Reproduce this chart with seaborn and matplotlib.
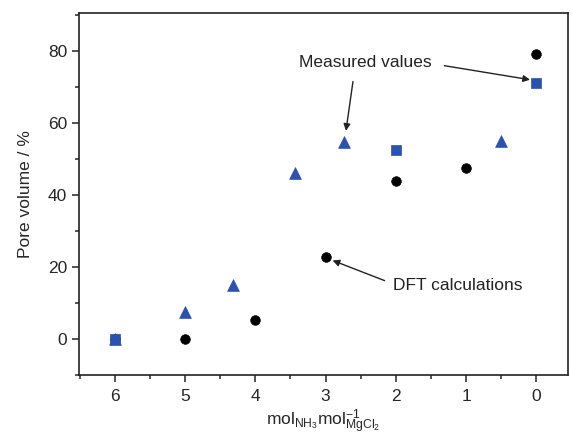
import numpy as np
import pandas as pd
import matplotlib
matplotlib.use("Agg")
import matplotlib.pyplot as plt
from matplotlib.ticker import MultipleLocator
import seaborn as sns

# ── Data ──────────────────────────────────────────────────────────────────────
X_DFT = [6, 5, 4, 3, 2, 1, 0]
Y_DFT = [0, 0, 5.4, 22.8, 44.0, 47.6, 79.2]

X_SQUARE = [6, 2, 0]
Y_SQUARE = [0, 52.6, 71.2]

X_TRIANGLE = [6, 5.0, 4.32, 3.44, 2.74, 0.5]
Y_TRIANGLE = [0, 7.4, 15.1, 46.2, 54.8, 55.0]

X_TICKS = [6, 5, 4, 3, 2, 1, 0]
Y_TICKS = [0, 20, 40, 60, 80]

BLUE = "#2a52b0"
FS = 12.5

# ── Style ─────────────────────────────────────────────────────────────────────
sns.set_style("ticks")
plt.rcParams["font.family"] = ["Liberation Sans", "DejaVu Sans"]
plt.rcParams["mathtext.fontset"] = "custom"
plt.rcParams["mathtext.rm"] = "Liberation Sans"
plt.rcParams["axes.linewidth"] = 1.2

df = pd.concat([
    pd.DataFrame({"x": X_DFT, "y": Y_DFT, "series": "DFT"}),
    pd.DataFrame({"x": X_SQUARE, "y": Y_SQUARE, "series": "Square"}),
    pd.DataFrame({"x": X_TRIANGLE, "y": Y_TRIANGLE, "series": "Triangle"}),
], ignore_index=True)

fig = plt.figure(figsize=(5.72, 4.37), dpi=100)
ax = fig.add_axes([0.138, 0.142, 0.855, 0.828])

sizes = {"DFT": 48, "Square": 46, "Triangle": 72}
for name, marker, color in [("DFT", "o", "black"), ("Square", "s", BLUE), ("Triangle", "^", BLUE)]:
    sub = df[df["series"] == name]
    sns.scatterplot(data=sub, x="x", y="y", marker=marker, color=color,
                    s=sizes[name], edgecolor=color, linewidth=0.5, ax=ax, legend=False, zorder=3)

ax.set_xlim(6.51, -0.45)
ax.set_ylim(-10, 90.5)
ax.set_xticks(X_TICKS)
ax.set_yticks(Y_TICKS)
ax.xaxis.set_minor_locator(MultipleLocator(0.5))
ax.yaxis.set_minor_locator(MultipleLocator(10))
ax.tick_params(which="major", direction="out", length=5, width=1.1, labelsize=FS, top=False, right=False)
ax.tick_params(which="minor", direction="out", length=3, width=1.1, top=False, right=False)
ax.tick_params(axis="x", pad=5)
for s in ax.spines.values():
    s.set_visible(True)
    s.set_color("#222222")

ax.set_ylabel("Pore volume / %", fontsize=FS, labelpad=11)
ax.set_xlabel(r"$\mathregular{mol_{NH_3}mol^{-1}_{MgCl_2}}$", fontsize=FS, labelpad=3)

# ── Annotations ───────────────────────────────────────────────────────────────
arrow = dict(arrowstyle="-|>", color="#222222", lw=1.0, mutation_scale=10, shrinkA=0, shrinkB=0)
ax.text(2.43, 76.8, "Measured values", ha="center", va="center", fontsize=FS, color="#222222")
ax.annotate("", xy=(0.09, 72.0), xytext=(1.31, 75.9), arrowprops=arrow)
ax.annotate("", xy=(2.71, 57.8), xytext=(2.61, 71.5), arrowprops=arrow)
ax.text(1.12, 14.8, "DFT calculations", ha="center", va="center", fontsize=FS, color="#222222")
ax.annotate("", xy=(2.9, 21.8), xytext=(2.16, 16.2), arrowprops=arrow)

fig.savefig("out.png", dpi=100)
